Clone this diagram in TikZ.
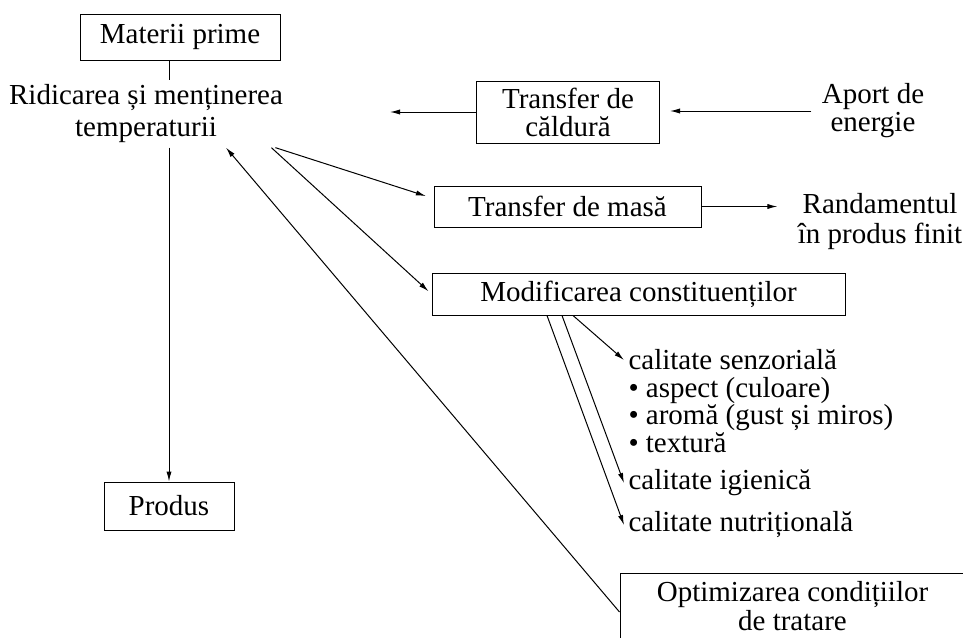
\documentclass[tikz,border=0pt]{standalone}
\usepackage{fontspec}
\setmainfont{Liberation Serif}
\usetikzlibrary{arrows.meta}

\begin{document}
\begin{tikzpicture}[x = 0.5pt, y = -0.5pt, line width = 0.5pt, >={Latex[length = 5pt, width = 2.6pt]}, font = \fontsize{14.5}{14}\selectfont, every node/.style = {inner sep = 2pt}, box/.style = {draw, align = center}, note/.style = {align = center}, quality/.style = {anchor = west, align = left}]
            \path[use as bounding box, clip] (0, 0) rectangle (963, 637);
            \node[box, minimum width = 100pt, minimum height = 23pt] (mat) at (180, 37) {Materii prime};
            \node[note, font = \fontsize{14.5}{16}\selectfont] (rid) at (146, 114) {Ridicarea și menținerea\\temperaturii};
            \node[box, minimum width = 65pt, minimum height = 24pt] (prod) at (169, 506) {Produs};
            \node[box, minimum width = 91.5pt, minimum height = 31pt] (tc) at (568, 112) {Transfer de\\căldură};
            \node[note] (aport) at (873, 111) {Aport de\\energie};
            \node[box, minimum width = 133.5pt, minimum height = 20.5pt] (tm) at (567.5, 206.5) {Transfer de masă};
            \node[note, font = \fontsize{14.5}{15}\selectfont] (rand) at (880, 222) {Randamentul\\în produs finit};
            \node[box, minimum width = 206.5pt, minimum height = 21pt] (mod) at (638.5, 294) {Modificarea constituenților};
            \node[quality] (senz) at (624, 360) {calitate senzorială};
            \node[quality, font = \fontsize{14.5}{13.8}\selectfont] (senzlist) at (624, 415) {\textbullet\ aspect (culoare)\\\textbullet\ aromă (gust și miros)\\\textbullet\ textură};
            \node[quality] (igien) at (624, 483) {calitate igienică};
            \node[quality] (nutr) at (624, 525) {calitate nutrițională};
            \node[box, minimum width = 172.5pt, minimum height = 33pt, font = \fontsize{14.5}{11.5}\selectfont] (opt) at (792.5, 606) {Optimizarea condițiilor\\de tratare};
            \coordinate (tcout) at (390, 112);

            \draw (mat.south -| prod.north) -- (rid.north -| prod.north);
            \draw[->] (rid.south -| prod.north) -- (prod.north);
            \draw[->] (tc.west) -- (tcout);
            \draw[->, shorten < = 3pt, shorten > = 5pt] (aport.west) -- (aport.west -| tc.east);
            \draw[->, shorten > = 8pt] (tm.east) -- (tm.east -| rand.west);
            \draw[->, shorten > = 4pt] ([xshift = -6pt]rid.south east) -- ([yshift = 4pt]tm.west);
            \draw[->, shorten > = 2pt] ([xshift = -8pt]rid.south east) -- (mod.west);
            \draw[->] ([yshift = -3pt]opt.west) -- ([xshift = 40pt]rid.south);
            \draw[->] ([xshift = -32.75pt]mod.south) -- (senz.west);
            \draw[->] ([xshift = -38.25pt]mod.south) -- (igien.west);
            \draw[->] ([xshift = -45.75pt]mod.south) -- (nutr.west);
        \end{tikzpicture}
\end{document}
